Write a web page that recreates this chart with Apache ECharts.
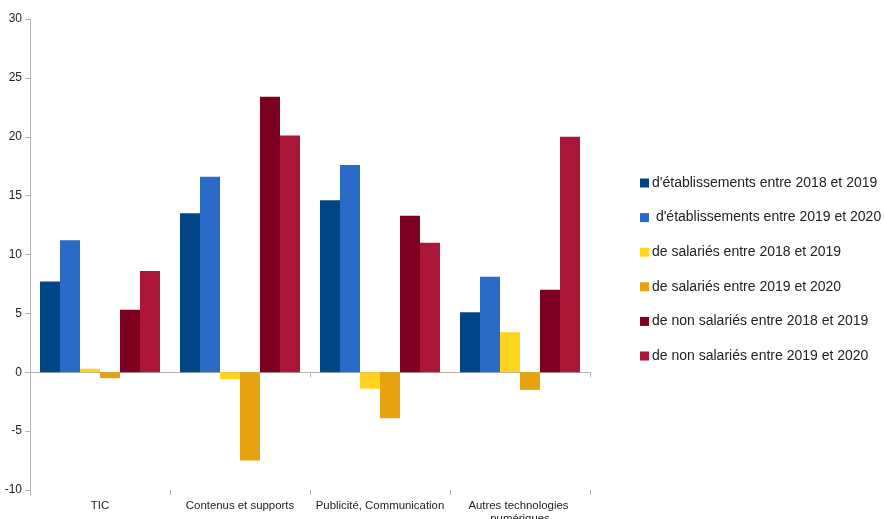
<!DOCTYPE html>
<html><head><meta charset="utf-8">
<script src="https://cdn.jsdelivr.net/npm/echarts@6/dist/echarts.min.js"></script>
<style>html,body{margin:0;padding:0;background:#fff}#c{width:884px;height:519px}</style>
</head><body><div id="c"></div>
<script>
const categories = ["TIC", "Contenus et supports", "Publicité, Communication", "Autres technologies numériques"];
const seriesNames = ["d'établissements entre 2018 et 2019", " d'établissements entre 2019 et 2020", "de salariés entre 2018 et 2019", "de salariés entre 2019 et 2020", "de non salariés entre 2018 et 2019", "de non salariés entre 2019 et 2020"];
const etab1819 = [7.7, 13.5, 14.6, 5.1];
const etab1920 = [11.2, 16.6, 17.6, 8.1];
const sal1819 = [0.3, -0.6, -1.4, 3.4];
const sal1920 = [-0.5, -7.5, -3.9, -1.5];
const nonsal1819 = [5.3, 23.4, 13.3, 7.0];
const nonsal1920 = [8.6, 20.1, 11.0, 20.0];
const colors = ["#004586", "#2a6bc7", "#ffd320", "#e8a20f", "#7e0021", "#ab1638"];
const seriesData = [etab1819, etab1920, sal1819, sal1920, nonsal1819, nonsal1920];

const chart = echarts.init(document.getElementById('c'));
chart.setOption({
  animation: false,
  textStyle: { fontFamily: 'Liberation Sans, Arial, sans-serif' },
  color: colors,
  grid: { left: 30, right: 294, top: 19, bottom: 29, containLabel: false, outerBoundsMode: 'none' },
  legend: {
    orient: 'vertical', left: 635, top: 171,
    itemWidth: 9, itemHeight: 9, itemGap: 20.6,
    icon: 'rect',
    textStyle: { fontSize: 14, color: '#222', padding: [0, 0, 0, -2] },
    data: seriesNames
  },
  xAxis: [
    { type: 'category', data: categories,
      axisLine: { onZero: true, lineStyle: { color: '#b3b3b3' } },
      axisTick: { show: true, length: 5, lineStyle: { color: '#b3b3b3' } },
      axisLabel: { show: false } },
    { type: 'category', data: categories, position: 'bottom',
      axisLine: { show: false, onZero: false },
      axisTick: { show: true, length: 5, lineStyle: { color: '#b3b3b3' } },
      axisLabel: { show: true, fontSize: 11.4, color: '#222', margin: 9, width: 150, overflow: 'break', lineHeight: 13, interval: 0 } }
  ],
  yAxis: {
    type: 'value', min: -10, max: 30, interval: 5,
    axisLine: { show: true, lineStyle: { color: '#b3b3b3' } },
    axisTick: { show: true, length: 5, lineStyle: { color: '#b3b3b3' } },
    splitLine: { show: false },
    axisLabel: { fontSize: 12, color: '#222', margin: 8 }
  },
  series: seriesNames.map((n, i) => ({
    name: n, type: 'bar', data: seriesData[i], xAxisIndex: 0,
    barGap: '0%', barCategoryGap: '14.3%',
    itemStyle: { color: colors[i] }
  }))
});
</script></body></html>
